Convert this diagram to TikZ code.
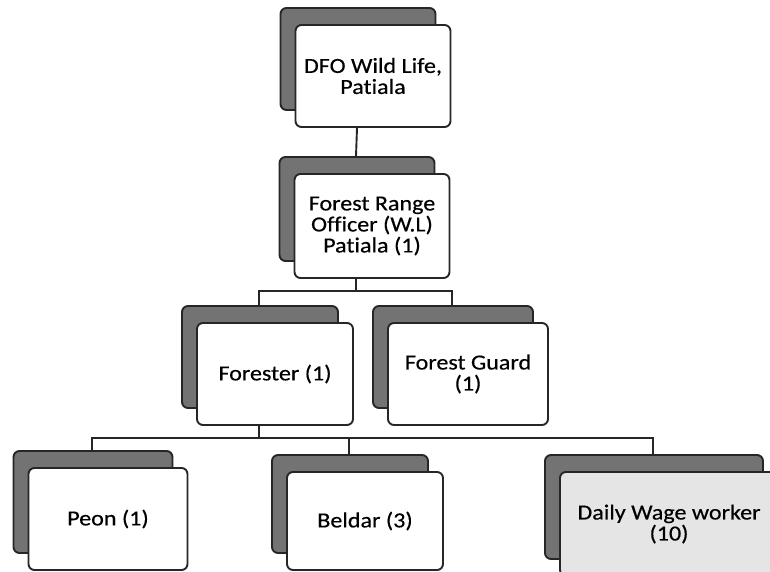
\documentclass[tikz,border=0pt]{standalone}
\usepackage{fontspec}
\setmainfont{Carlito}[Ligatures=NoCommon, FakeStretch=1.12, FakeBold=0.4]
\usepackage{tikz}
\usetikzlibrary{shadows}

\tikzset{
  post/.style={draw=black!85, line width=1.9pt, rounded corners=6pt, fill=white,
    minimum width=155pt, minimum height=102pt, align=center, inner sep=2pt,
    font=\fontsize{21.5}{21}\selectfont,
    copy shadow={shadow xshift=-15pt, shadow yshift=17pt, fill=black!55, draw=black!85}},
  link/.style={draw=black!85, line width=1.9pt},
}

\begin{document}
\begin{tikzpicture}[x=1pt, y=-1pt]
    \useasboundingbox (0,0) rectangle (770,572);

    \node[post] (dfo) at (373, 76) {DFO Wild Life,\\Patiala};
    \node[post, minimum height=104pt] (fro) at (372, 226) {Forest Range\\Officer (W.L)\\Patiala (1)};
    \node[post, minimum width=156pt] (forester) at (275, 374) {Forester (1)};
    \node[post, minimum width=160pt] (guard) at (468, 374) {Forest Guard\\(1)};
    \node[post, minimum width=159pt] (peon) at (108, 519) {Peon (1)};
    \node[post, minimum width=156pt, minimum height=98pt] (beldar) at (365, 521) {Beldar (3)};
    \node[post, minimum width=218pt, minimum height=104pt, fill=black!10] (daily) at (669, 524) {Daily Wage worker\\(10)};

    \draw[link] ([xshift=-16pt]dfo.south) -- ([xshift=-16pt, yshift=17pt]fro.north);

    \draw[link] ([xshift=-16pt]fro.south) -- ++(0,12) coordinate (froJ);
    \draw[link] ([xshift=-16pt, yshift=17pt]forester.north) |- (froJ) -| ([xshift=-16pt, yshift=17pt]guard.north);

    \draw[link] ([xshift=-16pt]forester.south) -- ++(0,12) coordinate (forJ);
    \draw[link] ([xshift=-16pt, yshift=17pt]peon.north) |- (forJ) -| ([xshift=-16pt, yshift=17pt]daily.north);
    \draw[link] ([xshift=-16pt, yshift=17pt]beldar.north) |- (forJ);
\end{tikzpicture}
\end{document}
